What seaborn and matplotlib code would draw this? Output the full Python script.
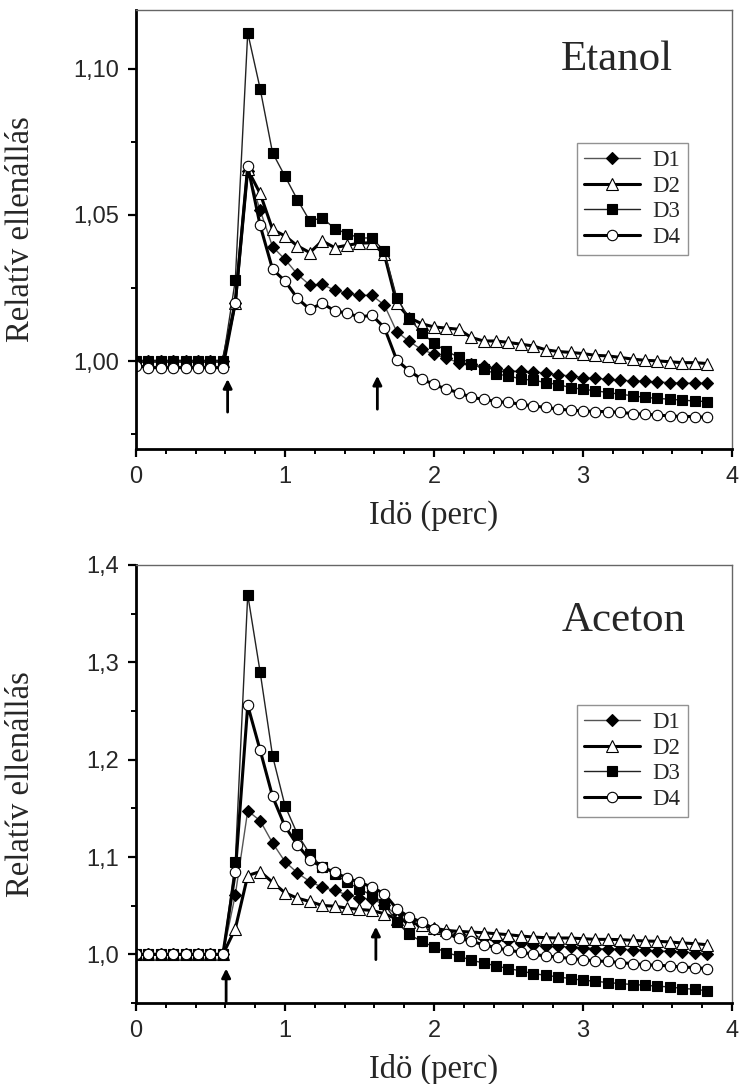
import numpy as np
import matplotlib
matplotlib.use("Agg")
import matplotlib.pyplot as plt
import seaborn as sns

# ---------------- data ----------------
time_s = [0, 5, 10, 15, 20, 25, 30, 35, 40, 45, 50, 55, 60, 65, 70, 75, 80, 85, 90, 95,
          100, 105, 110, 115, 120, 125, 130, 135, 140, 145, 150, 155, 160, 165, 170, 175,
          180, 185, 190, 195, 200, 205, 210, 215, 220, 225, 230]
series_names = ["D1", "D2", "D3", "D4"]

etanol_D1 = [1.000, 1.000, 1.000, 1.000, 1.000, 1.000, 1.000, 1.000,
             1.020, 1.065, 1.0516, 1.0391, 1.0348, 1.0297, 1.0260, 1.0263, 1.0242, 1.0232,
             1.0225, 1.0225, 1.0192, 1.0101, 1.0068, 1.0040, 1.0024, 1.0010, 0.9995, 0.9990,
             0.9982, 0.9976, 0.9967, 0.9965, 0.9964, 0.9959, 0.9953, 0.9950, 0.9944, 0.9941,
             0.9939, 0.9935, 0.9933, 0.9931, 0.9929, 0.9927, 0.9925, 0.9925, 0.9924]
etanol_D2 = [1.000, 1.000, 1.000, 1.000, 1.000, 1.000, 1.000, 1.000,
             1.020, 1.0655, 1.0573, 1.0450, 1.0428, 1.0394, 1.0371, 1.0411, 1.0388, 1.0396,
             1.0403, 1.0405, 1.0365, 1.0198, 1.0149, 1.0128, 1.0117, 1.0113, 1.0109, 1.0081,
             1.0069, 1.0069, 1.0064, 1.0058, 1.0052, 1.0039, 1.0033, 1.0030, 1.0026, 1.0020,
             1.0018, 1.0013, 1.0007, 1.0003, 1.0001, 0.9998, 0.9995, 0.9995, 0.9992]
etanol_D3 = [1.000, 1.000, 1.000, 1.000, 1.000, 1.000, 1.000, 1.000,
             1.0277, 1.1122, 1.0931, 1.0712, 1.0632, 1.0552, 1.0479, 1.0490, 1.0453, 1.0436,
             1.0421, 1.0421, 1.0376, 1.0217, 1.0146, 1.0098, 1.0061, 1.0035, 1.0013, 0.9992,
             0.9973, 0.9956, 0.9950, 0.9939, 0.9935, 0.9927, 0.9920, 0.9910, 0.9904, 0.9899,
             0.9893, 0.9887, 0.9882, 0.9876, 0.9873, 0.9870, 0.9867, 0.9864, 0.9862]
etanol_D4 = [0.9985, 0.9978, 0.9978, 0.9978, 0.9978, 0.9978, 0.9978, 0.9978,
             1.020, 1.0667, 1.0464, 1.0314, 1.0274, 1.0215, 1.0177, 1.0198, 1.0172, 1.0164,
             1.0151, 1.0157, 1.0115, 1.0004, 0.9967, 0.9939, 0.9921, 0.9904, 0.9893, 0.9876,
             0.9870, 0.9862, 0.9859, 0.9853, 0.9847, 0.9842, 0.9836, 0.9833, 0.9830, 0.9828,
             0.9828, 0.9825, 0.9821, 0.9819, 0.9816, 0.9813, 0.9811, 0.9811, 0.9808]

aceton_D1 = [1.000, 1.000, 1.000, 1.000, 1.000, 1.000, 1.000, 1.000,
             1.0611, 1.1475, 1.1373, 1.1144, 1.0953, 1.0837, 1.0748, 1.0690, 1.0656, 1.0611,
             1.0577, 1.0570, 1.0509, 1.0400, 1.0338, 1.0297, 1.0260, 1.0230, 1.0210, 1.0190,
             1.0170, 1.0155, 1.0143, 1.0116, 1.0093, 1.0086, 1.0082, 1.0076, 1.0069, 1.0058,
             1.0058, 1.0052, 1.0048, 1.0041, 1.0035, 1.0031, 1.0024, 1.0017, 1.0005]
aceton_D2 = [1.000, 1.000, 1.000, 1.000, 1.000, 1.000, 1.000, 1.000,
             1.0263, 1.0810, 1.0850, 1.0741, 1.0632, 1.0577, 1.0543, 1.0502, 1.0495, 1.0475,
             1.0461, 1.0451, 1.0417, 1.0365, 1.0331, 1.0297, 1.0270, 1.0246, 1.0236, 1.0229,
             1.0222, 1.0212, 1.0202, 1.0188, 1.0178, 1.0171, 1.0168, 1.0168, 1.0161, 1.0154,
             1.0154, 1.0151, 1.0144, 1.0137, 1.0134, 1.0127, 1.0117, 1.0110, 1.0099]
aceton_D3 = [1.000, 1.000, 1.000, 1.000, 1.000, 1.000, 1.000, 1.000,
             1.0953, 1.3695, 1.2900, 1.2039, 1.1527, 1.1236, 1.1031, 1.0895, 1.0827, 1.0741,
             1.0673, 1.0605, 1.0519, 1.0331, 1.0205, 1.0133, 1.0076, 1.0017, 0.9983, 0.9939,
             0.9912, 0.9881, 0.9854, 0.9830, 0.9802, 0.9785, 0.9768, 0.9751, 0.9734, 0.9724,
             0.9710, 0.9700, 0.9690, 0.9683, 0.9672, 0.9666, 0.9649, 0.9642, 0.9625]
aceton_D4 = [1.000, 1.000, 1.000, 1.000, 1.000, 1.000, 1.000, 1.000,
             1.0844, 1.2558, 1.2097, 1.1622, 1.1315, 1.1124, 1.0973, 1.0895, 1.0844, 1.0782,
             1.0741, 1.0690, 1.0622, 1.0468, 1.0383, 1.0331, 1.0263, 1.0212, 1.0168, 1.0133,
             1.0099, 1.0068, 1.0041, 1.0024, 1.0000, 0.9983, 0.9973, 0.9956, 0.9946, 0.9932,
             0.9928, 0.9915, 0.9905, 0.9894, 0.9888, 0.9881, 0.9870, 0.9864, 0.9853]

# gas on / gas off arrows (time, tail value, head value)
etanol_arrows = [(0.615, 0.9826, 0.9939), (1.62, 0.9836, 0.9950)]
aceton_arrows = [(0.605, 0.9515, 0.9854), (1.61, 0.9946, 1.0284)]

etanol_yticks = [1.00, 1.05, 1.10]
etanol_ylabels = ["1,00", "1,05", "1,10"]
aceton_yticks = [1.0, 1.1, 1.2, 1.3, 1.4]
aceton_ylabels = ["1,0", "1,1", "1,2", "1,3", "1,4"]
xticks = [0, 1, 2, 3, 4]
xlabels = ["0", "1", "2", "3", "4"]

# ---------------- style ----------------
sns.set_style("ticks")
plt.rcParams["font.family"] = ["Liberation Serif", "DejaVu Serif"]

styles = {
    "D1": dict(color="#555555", linewidth=1.0, marker="D", markersize=6.5,
               markerfacecolor="black", markeredgecolor="black", markeredgewidth=0.8),
    "D2": dict(color="black", linewidth=2.2, marker="^", markersize=8,
               markerfacecolor="white", markeredgecolor="black", markeredgewidth=0.8),
    "D3": dict(color="#222222", linewidth=1.0, marker="s", markersize=6.5,
               markerfacecolor="black", markeredgecolor="black", markeredgewidth=0.8),
    "D4": dict(color="black", linewidth=2.2, marker="o", markersize=7.5,
               markerfacecolor="white", markeredgecolor="black", markeredgewidth=0.8),
}

fig = plt.figure(figsize=(7.39, 10.84), dpi=100)
ax1 = fig.add_axes([0.1840, 0.5858, 0.8065, 0.4050])
ax2 = fig.add_axes([0.1840, 0.0747, 0.8065, 0.4041])

t_min = np.array(time_s) / 60.0

panels = [
    (ax1, [etanol_D1, etanol_D2, etanol_D3, etanol_D4], "Etanol", (0.97, 1.12),
     etanol_yticks, etanol_ylabels, [0.975, 1.025, 1.075], etanol_arrows, (0.807, 0.863),
     0.697),
    (ax2, [aceton_D1, aceton_D2, aceton_D3, aceton_D4], "Aceton", (0.95, 1.40),
     aceton_yticks, aceton_ylabels, [0.95, 1.05, 1.15, 1.25, 1.35], aceton_arrows,
     (0.818, 0.849), 0.680),
]

for ax, data, title, ylim, yt, ytl, yminor, arrows, tpos, leg_y in panels:
    for name, vals in zip(series_names, data):
        sns.lineplot(x=t_min, y=vals, ax=ax, label=name, **styles[name])
    ax.set_xlim(0, 4)
    ax.set_ylim(*ylim)
    ax.set_xticks(xticks)
    ax.set_xticklabels(xlabels)
    ax.set_xticks(np.arange(0.2, 4.0, 0.2), minor=True)
    ax.set_yticks(yt)
    ax.set_yticklabels(ytl)
    ax.set_yticks(yminor, minor=True)
    ax.tick_params(axis="both", which="major", direction="out", length=6, width=1.6,
                   pad=6, labelsize=17, color="black")
    ax.tick_params(axis="both", which="minor", direction="out", length=3.5, width=1.4,
                   color="black")
    for lab in ax.get_xticklabels() + ax.get_yticklabels():
        lab.set_fontfamily("Liberation Sans")
    for side in ["left", "bottom"]:
        ax.spines[side].set_linewidth(2.0)
        ax.spines[side].set_color("black")
    for side in ["top", "right"]:
        ax.spines[side].set_linewidth(1.0)
        ax.spines[side].set_color("#666666")
    ax.set_xlabel("Idö (perc)", fontsize=23.5)
    ax.set_ylabel("Relatív ellenállás", fontsize=23.5)
    ax.xaxis.set_label_coords(0.5, -0.115)
    ax.yaxis.set_label_coords(-0.167, 0.5)
    ax.text(tpos[0], tpos[1], title, transform=ax.transAxes, ha="center",
            va="baseline", fontsize=31)
    for (tx, y0, y1) in arrows:
        ax.annotate("", xy=(tx, y1), xytext=(tx, y0),
                    arrowprops=dict(arrowstyle="-|>", color="black", lw=2.0,
                                    mutation_scale=13, shrinkA=0, shrinkB=0))
    leg = ax.legend(loc="upper left", bbox_to_anchor=(0.740, leg_y), borderaxespad=0,
                    frameon=True, fancybox=False, edgecolor="#777777",
                    prop={"family": "Liberation Serif", "size": 16.5},
                    handlelength=2.45, handletextpad=0.55, labelspacing=0.2,
                    borderpad=0.3)
    leg.get_frame().set_linewidth(1.0)
    ax.grid(False)

fig.savefig("out.png", dpi=100, facecolor="white")
